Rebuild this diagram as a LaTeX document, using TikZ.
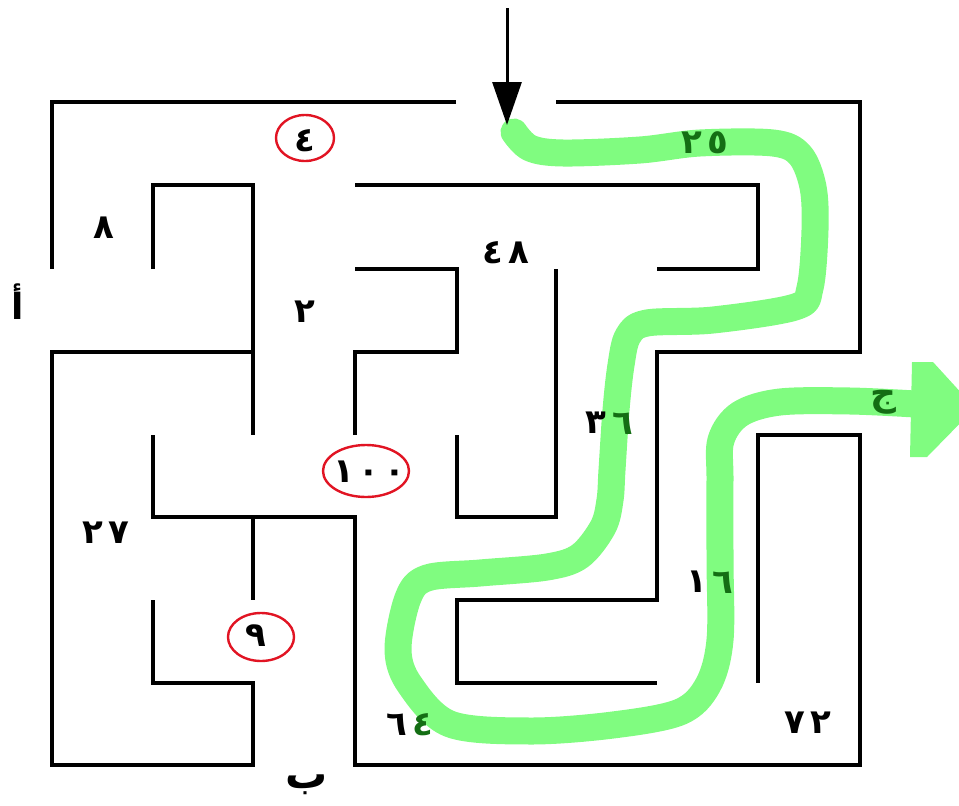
\documentclass[tikz,border=0pt]{standalone}
\usepackage{fontspec}
\usetikzlibrary{arrows.meta}
\TeXXeTstate=1
\newfontfamily\arabicfont[Script=Arabic]{DejaVu Sans}
\newfontfamily\digitfont[LetterSpace=14]{DejaVu Sans}
\definecolor{pathgreen}{RGB}{128,252,128}
\definecolor{darkgreen}{RGB}{20,110,20}
\definecolor{circlered}{RGB}{225,20,35}
\tikzset{
  wall/.style={line width=3.4pt, black, line join=miter},
  route/.style={line width=27pt, pathgreen, line cap=round, line join=round},
  num/.style={font=\digitfont\bfseries\fontsize{34}{36}\selectfont, inner sep=0pt},
  letter/.style={font=\arabicfont\bfseries\fontsize{36}{38}\selectfont, inner sep=0pt},
  ring/.style={draw=circlered, line width=2.4pt},
}
\begin{document}
\begin{tikzpicture}[x=1pt,y=-1pt]
\useasboundingbox (0,0) rectangle (959,806);
\clip (0,0) rectangle (959,806);
% walls
\draw[wall] (456,102) -- (52,102) -- (52,269);
\draw[wall] (253,352) -- (52,352) -- (52,765) -- (253,765) -- (253,683) -- (153,683) -- (153,600);
\draw[wall] (153,269) -- (153,185) -- (253,185) -- (253,435);
\draw[wall] (153,435) -- (153,517) -- (355,517) -- (355,765) -- (860,765) -- (860,435) -- (758,435) -- (758,683);
\draw[wall] (253,517) -- (253,600);
\draw[wall] (355,185) -- (758,185) -- (758,269) -- (657,269);
\draw[wall] (355,435) -- (355,352) -- (457,352) -- (457,269) -- (355,269);
\draw[wall] (457,435) -- (457,517) -- (556,517) -- (556,269);
\draw[wall] (556,102) -- (860,102) -- (860,352) -- (657,352) -- (657,600) -- (457,600) -- (457,683) -- (657,683);
% green route
\draw[route] plot[smooth, tension=0.55] coordinates {
  (514,132) (530,148) (563,153) (640,150) (700,143) (773,143) (800,155)
  (813,187) (815,230) (810,288) (795,307) (713,320) (647,323) (628,336)
  (621,365) (616,410) (612,470) (610,500) (603,527) (580,556) (547,567)
  (480,573) (427,578) (408,598) (398,650) (410,685) (450,724) (530,731)
  (613,725) (680,712) (708,685) (720,640) (720,560) (720,480) (721,440)
  (740,414) (780,402) (850,401) (915,404)};
\fill[pathgreen] (912,362) -- (933,362) -- (975,408) -- (927,457) -- (910,457) -- cycle;
% entrance arrow
\coordinate (in0) at (507,8);
\coordinate (in1) at (507,125);
\draw[line width=3pt, -{Triangle[width=29pt,length=43pt]}] (in0) -- (in1);
% red rings
\draw[ring] (305,138) ellipse [x radius=29, y radius=23];
\draw[ring] (366,471) ellipse [x radius=43, y radius=26];
\draw[ring] (261,637) ellipse [x radius=33, y radius=24];
% labels
\node[num] (n4) at (305,141) {٤};
\node[num] (n8) at (104,228) {٨};
\node[letter] (la) at (18,302) {\beginR أ\endR};
\node[num] (n2) at (305,312) {٢};
\node[num] (n48) at (506,253) {٤٨};
\node[num, darkgreen] (n25) at (705,143) {٢٥};
\node[num] (n36a) at (596,423) {٣};
\node[num, darkgreen] (n36b) at (623,424) {٦};
\node[num] (n100) at (369,472) {١٠٠};
\node[num] (n27) at (106,533) {٢٧};
\node[num] (n16a) at (697,582) {١};
\node[num, darkgreen] (n16b) at (723,583) {٦};
\node[num] (n9) at (256,636) {٩};
\node[num] (n64a) at (397,725) {٦};
\node[num, darkgreen] (n64b) at (423,725) {٤};
\node[num] (n72) at (808,723) {٧٢};
\node[letter, font=\arabicfont\bfseries\fontsize{42}{44}\selectfont] (lb) at (307,785) {\beginR ب\endR};
\node[letter] (lc) [darkgreen] at (883,402) {\beginR ج\endR};
\end{tikzpicture}
\end{document}
